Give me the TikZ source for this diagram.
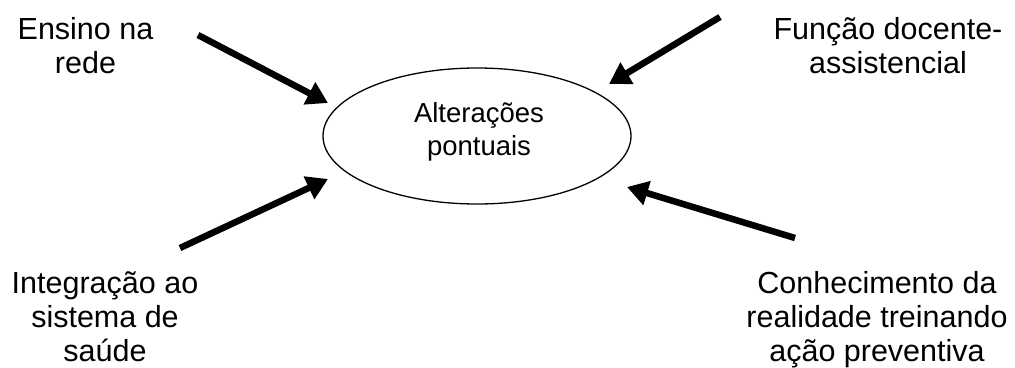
\documentclass[tikz,border=0pt]{standalone}
\usepackage{fontspec}
\setmainfont{Liberation Sans}
\usetikzlibrary{arrows.meta,shapes.geometric}
\tikzset{
  lab/.style={font=\fontsize{30.5}{34}\selectfont, align=center, inner sep=0pt, anchor=base},
  inlab/.style={font=\fontsize{27.5}{33}\selectfont, align=center, inner sep=0pt, anchor=base},
  bigarrow/.style={line width=6.5pt, -{Triangle[length=21pt,width=24pt]}},
  ell/.style={draw, line width=1.3pt, ellipse, minimum width=308pt, minimum height=136pt, inner sep=0pt}
}
\begin{document}
\begin{tikzpicture}[x=1pt,y=-1pt]
\useasboundingbox (0,0) rectangle (1015,367);
\node[ell] (center) at (477,136) {};
\node[inlab] (ctext) at (479,155) {Alterações\\pontuais};
\node[lab] (tl) at (85.5,73) {Ensino na\\rede};
\node[lab] (tr) at (888,73) {Função docente-\\assistencial};
\node[lab] (bl) at (105,361) {Integração ao\\sistema de\\saúde};
\node[lab] (br) at (877,361) {Conhecimento da\\realidade treinando\\ação preventiva};
\coordinate (tlA) at (198,35);
\coordinate (tlB) at (328,103);
\coordinate (trA) at (720,17);
\coordinate (trB) at (609,84);
\coordinate (blA) at (180,248);
\coordinate (blB) at (328,179);
\coordinate (brA) at (795,238);
\coordinate (brB) at (627,187);
\draw[bigarrow] (tlA) -- (tlB);
\draw[bigarrow] (trA) -- (trB);
\draw[bigarrow] (blA) -- (blB);
\draw[bigarrow] (brA) -- (brB);
\end{tikzpicture}
\end{document}
